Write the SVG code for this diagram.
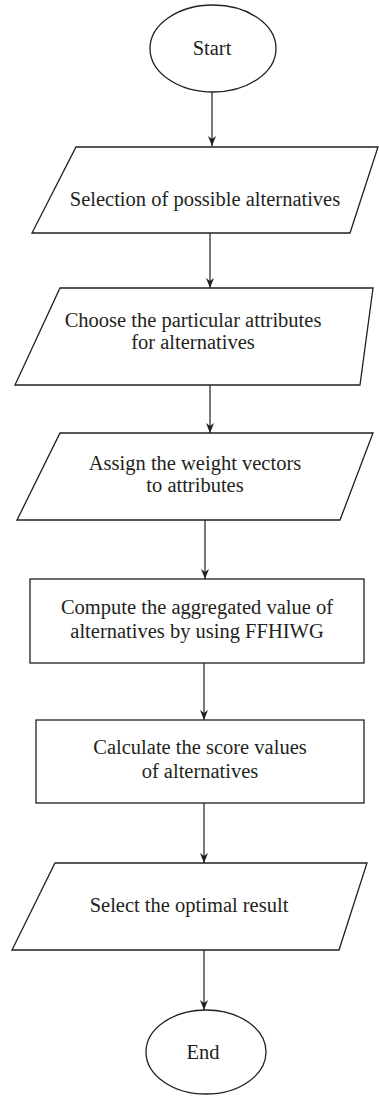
<svg xmlns="http://www.w3.org/2000/svg" width="379" height="1096" viewBox="0 0 379 1096">
<style>
.shape{fill:#fff;stroke:#231f20;stroke-width:1.3}
.conn{fill:none;stroke:#231f20;stroke-width:1.2}
text{font-family:"Liberation Serif","Times New Roman",serif;font-size:20.5px;fill:#231f20;text-anchor:middle}
</style>
<defs>
<marker id="arr" markerUnits="userSpaceOnUse" markerWidth="12" markerHeight="12" refX="10" refY="4" orient="auto">
<path d="M0,0 L10,4 L0,8 L3,4 z" fill="#231f20"/>
</marker>
</defs>
<rect width="379" height="1096" fill="#fff"/>
<g id="connectors">
<line class="conn" x1="212" y1="92" x2="212" y2="146" marker-end="url(#arr)"/>
<line class="conn" x1="210" y1="233" x2="210" y2="288" marker-end="url(#arr)"/>
<line class="conn" x1="210" y1="385" x2="210" y2="433" marker-end="url(#arr)"/>
<line class="conn" x1="205" y1="520" x2="205" y2="579" marker-end="url(#arr)"/>
<line class="conn" x1="204" y1="663" x2="204" y2="720" marker-end="url(#arr)"/>
<line class="conn" x1="204" y1="803" x2="204" y2="863" marker-end="url(#arr)"/>
<line class="conn" x1="204" y1="950" x2="204" y2="1010" marker-end="url(#arr)"/>
</g>
<g id="start">
<ellipse class="shape" cx="213" cy="48.5" rx="63" ry="43.5"/>
<text x="212" y="55">Start</text>
</g>
<g id="selection">
<polygon class="shape" points="76,147 378,147 350,233 32,233"/>
<text x="205" y="206">Selection of possible alternatives</text>
</g>
<g id="choose">
<polygon class="shape" points="60,288 373,288 360,385 15,385"/>
<text x="193" y="327">Choose the particular attributes</text>
<text x="193" y="349">for alternatives</text>
</g>
<g id="assign">
<polygon class="shape" points="60,433 373,433 340,520 17,520"/>
<text x="195" y="470">Assign the weight vectors</text>
<text x="195" y="492">to attributes</text>
</g>
<g id="compute">
<rect class="shape" x="30" y="579" width="334" height="84"/>
<text x="197" y="614">Compute the aggregated value of</text>
<text x="197" y="638">alternatives by using FFHIWG</text>
</g>
<g id="calculate">
<rect class="shape" x="36" y="720" width="328" height="83"/>
<text x="200" y="754">Calculate the score values</text>
<text x="200" y="778">of alternatives</text>
</g>
<g id="select">
<polygon class="shape" points="55,863 367,863 339,950 12,950"/>
<text x="189" y="912">Select the optimal result</text>
</g>
<g id="end">
<ellipse class="shape" cx="206" cy="1052" rx="60" ry="42"/>
<text x="203" y="1059">End</text>
</g>
</svg>
